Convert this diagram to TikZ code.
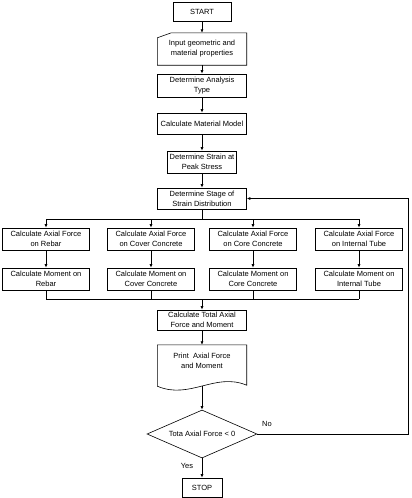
\documentclass[tikz,border=0pt]{standalone}
\usepackage{fontspec}
\setmainfont{Liberation Sans}
\usetikzlibrary{arrows.meta,shapes.geometric}
\begin{document}
\begin{tikzpicture}[x=1pt,y=-1pt,
  font=\fontsize{7.5}{10}\selectfont,
  >={Latex[length=3.5pt,width=3pt]},
  box/.style={draw,line width=0.6pt,align=center,inner sep=1pt,minimum width=89pt,minimum height=22pt},
  sidebox/.style={box,minimum width=87pt},
  iobox/.style={align=center,inner sep=1pt,minimum width=89pt,minimum height=32pt},
  link/.style={line width=0.9pt}]
\useasboundingbox (0,0) rectangle (412,498);
% main column
\node[box,minimum width=58pt,minimum height=19pt] (start) at (202,11.5) {START};
\node[iobox] (input) at (202,49) {Input geometric and\\material properties};
\draw[line width=0.6pt] ([yshift=-5pt]input.north west) -- ([xshift=14pt]input.north west) -- (input.north east) -- (input.south east) -- (input.south west) -- cycle;
\node[box,minimum height=23pt] (type) at (202,85.5) {Determine Analysis\\Type};
\node[box,minimum height=21pt] (material) at (202,123.5) {Calculate Material Model};
\node[box,minimum width=69pt] (peak) at (202,162) {Determine Strain at\\Peak Stress};
\node[box,minimum height=21pt] (stage) at (202,198.5) {Determine Stage of\\Strain Distribution};
% four branches
\node[sidebox] (rebar) at (46,239) {Calculate Axial Force\\on Rebar};
\node[sidebox] (cover) at (151,239) {Calculate Axial Force\\on Cover Concrete};
\node[sidebox] (core) at (253,239) {Calculate Axial Force\\on Core Concrete};
\node[sidebox] (tube) at (359,239) {Calculate Axial Force\\on Internal Tube};
\node[sidebox] (rebarM) at (46,279) {Calculate Moment on\\Rebar};
\node[sidebox] (coverM) at (151,279) {Calculate Moment on\\Cover Concrete};
\node[sidebox] (coreM) at (253,279) {Calculate Moment on\\Core Concrete};
\node[sidebox] (tubeM) at (359,279) {Calculate Moment on\\Internal Tube};
% bottom part
\node[box,minimum height=20pt] (total) at (202,320) {Calculate Total Axial\\Force and Moment};
\node[iobox] (print) at (202,361) {Print~ Axial Force\\and Moment};
\draw[line width=0.6pt] (print.north west) -- (print.north east) -- ([yshift=-8pt]print.south east)
  .. controls (215,372) and (190,400) .. ([yshift=-9pt]print.south west) -- cycle;
\coordinate (printbot) at ([yshift=-9pt]print.south);
\node[draw,line width=0.6pt,diamond,aspect=2.3,inner sep=0pt,minimum width=110pt,minimum height=48pt] (test) at (202,434) {Tota Axial Force < 0};
\node[box,minimum width=40pt,minimum height=19pt] (stop) at (202,487.5) {STOP};
\node (no) at (267,424) {No};
\node (yes) at (187,466) {Yes};
% connectors
\coordinate (split) at (202,219);
\coordinate (join) at (202,299);
\coordinate (loop) at (408,0);
\draw[->,link] (start) -- (input);
\draw[->,link] (input) -- (type);
\draw[->,link] (type) -- (material);
\draw[->,link] (material) -- (peak);
\draw[->,link] (peak) -- (stage);
\draw[link] (stage) -- (split);
\draw[link] (split -| rebar) -- (split -| tube);
\foreach \n in {rebar,cover,core,tube} {
  \draw[->,link] (split -| \n) -- (\n);
  \draw[->,link] (\n) -- (\n M);
  \draw[link] (\n M) -- (join -| \n M);
}
\draw[link] (join -| rebarM) -- (join -| tubeM);
\draw[->,link] (join) -- (total);
\draw[->,link] (total) -- (print);
\draw[->,link] (printbot) -- (test);
\draw[->,link] (test) -- (stop);
\draw[->,link] (test.east) -- (test.east -| loop) -- (loop |- stage.east) -- (stage.east);
\end{tikzpicture}
\end{document}
